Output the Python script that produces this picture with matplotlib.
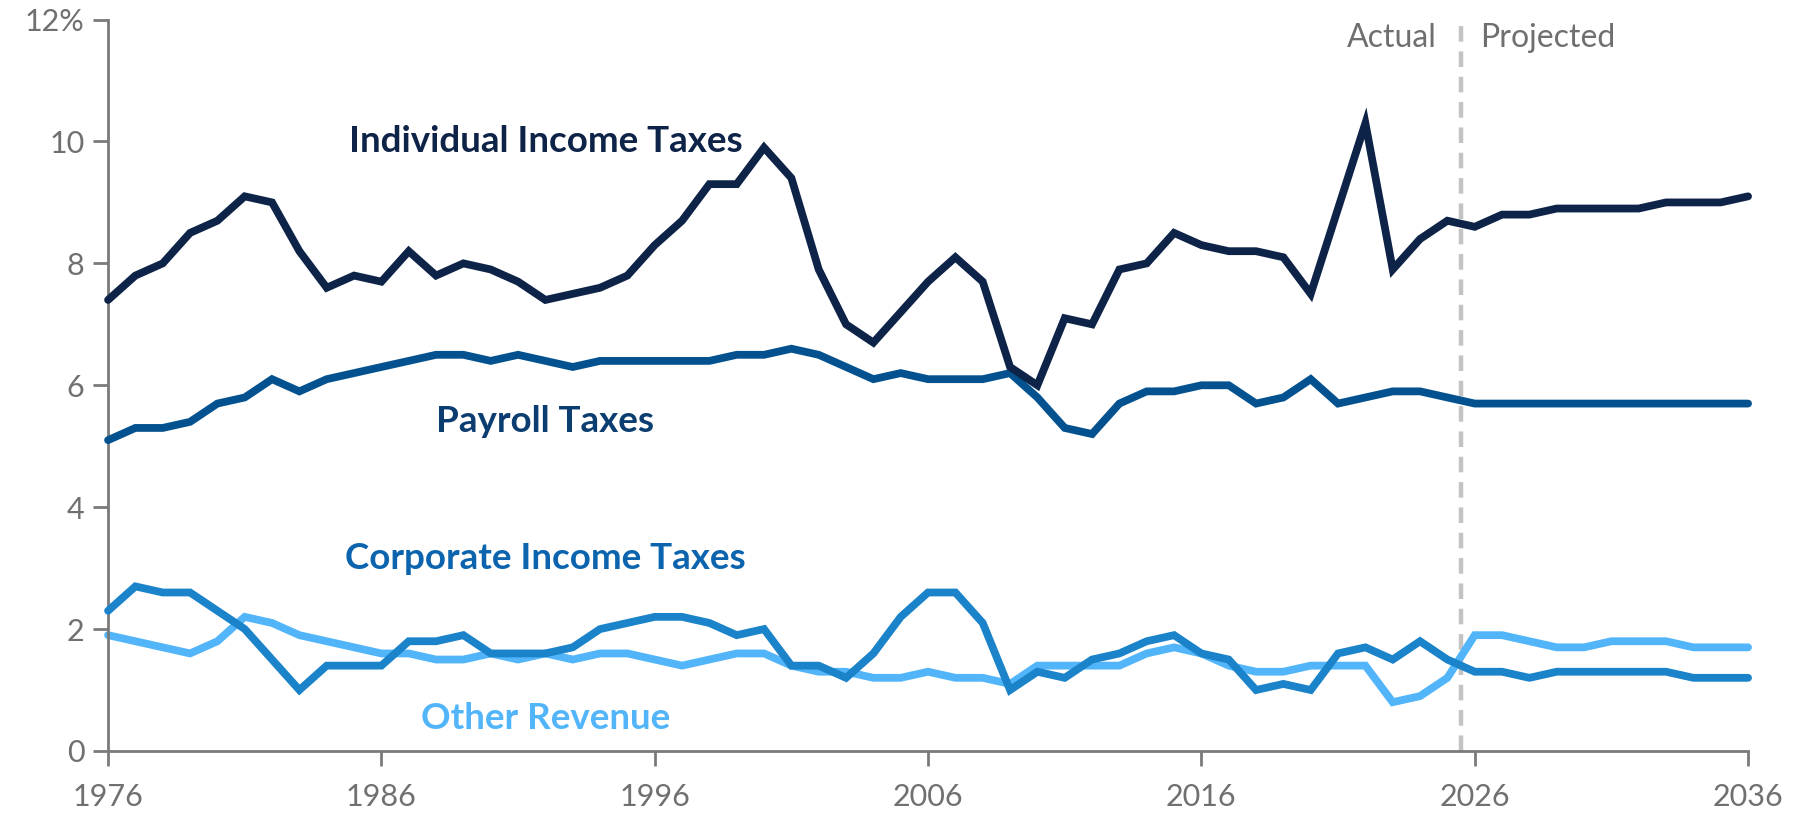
import numpy as np
import matplotlib
matplotlib.use("Agg")
from matplotlib import pyplot as plt

years = list(range(1976, 2037))

individual = [7.4, 7.8, 8.0, 8.5, 8.7, 9.1, 9.0, 8.2, 7.6, 7.8,
              7.7, 8.2, 7.8, 8.0, 7.9, 7.7, 7.4, 7.5, 7.6, 7.8,
              8.3, 8.7, 9.3, 9.3, 9.9, 9.4, 7.9, 7.0, 6.7, 7.2,
              7.7, 8.1, 7.7, 6.3, 6.0, 7.1, 7.0, 7.9, 8.0, 8.5,
              8.3, 8.2, 8.2, 8.1, 7.5, 8.9, 10.3, 7.9, 8.4, 8.7,
              8.6, 8.8, 8.8, 8.9, 8.9, 8.9, 8.9, 9.0, 9.0, 9.0,
              9.1]

payroll = [5.1, 5.3, 5.3, 5.4, 5.7, 5.8, 6.1, 5.9, 6.1, 6.2,
           6.3, 6.4, 6.5, 6.5, 6.4, 6.5, 6.4, 6.3, 6.4, 6.4,
           6.4, 6.4, 6.4, 6.5, 6.5, 6.6, 6.5, 6.3, 6.1, 6.2,
           6.1, 6.1, 6.1, 6.2, 5.8, 5.3, 5.2, 5.7, 5.9, 5.9,
           6.0, 6.0, 5.7, 5.8, 6.1, 5.7, 5.8, 5.9, 5.9, 5.8,
           5.7, 5.7, 5.7, 5.7, 5.7, 5.7, 5.7, 5.7, 5.7, 5.7,
           5.7]

corporate = [2.3, 2.7, 2.6, 2.6, 2.3, 2.0, 1.5, 1.0, 1.4, 1.4,
             1.4, 1.8, 1.8, 1.9, 1.6, 1.6, 1.6, 1.7, 2.0, 2.1,
             2.2, 2.2, 2.1, 1.9, 2.0, 1.4, 1.4, 1.2, 1.6, 2.2,
             2.6, 2.6, 2.1, 1.0, 1.3, 1.2, 1.5, 1.6, 1.8, 1.9,
             1.6, 1.5, 1.0, 1.1, 1.0, 1.6, 1.7, 1.5, 1.8, 1.5,
             1.3, 1.3, 1.2, 1.3, 1.3, 1.3, 1.3, 1.3, 1.2, 1.2,
             1.2]

other = [1.9, 1.8, 1.7, 1.6, 1.8, 2.2, 2.1, 1.9, 1.8, 1.7,
         1.6, 1.6, 1.5, 1.5, 1.6, 1.5, 1.6, 1.5, 1.6, 1.6,
         1.5, 1.4, 1.5, 1.6, 1.6, 1.4, 1.3, 1.3, 1.2, 1.2,
         1.3, 1.2, 1.2, 1.1, 1.4, 1.4, 1.4, 1.4, 1.6, 1.7,
         1.6, 1.4, 1.3, 1.3, 1.4, 1.4, 1.4, 0.8, 0.9, 1.2,
         1.9, 1.9, 1.8, 1.7, 1.7, 1.8, 1.8, 1.8, 1.7, 1.7,
         1.7]

xticks = [1976, 1986, 1996, 2006, 2016, 2026, 2036]
yticks = [0, 2, 4, 6, 8, 10, 12]
ytick_labels = ["0", "2", "4", "6", "8", "10", "12%"]

plt.rcParams['font.family'] = ['Lato', 'DejaVu Sans']

fig = plt.figure(figsize=(18.01, 8.16), dpi=100)
ax = fig.add_axes([0.06, 0.0797, 0.9106, 0.8963])

grey = "#7a7a7a"
c_ind = "#0d2347"
c_pay = "#03528f"
c_corp = "#1b83c9"
c_oth = "#52b5fa"

ax.axvline(2025.5, ymin=0, ymax=1, color="#c3c3c3", lw=3.2, ls=(0, (3.5, 2.2)), zorder=1)

line_kw = dict(lw=5.6, solid_capstyle="round", solid_joinstyle="miter", clip_on=False)
ax.plot(years, other, color=c_oth, zorder=2, **line_kw)
ax.plot(years, corporate, color=c_corp, zorder=3, **line_kw)
ax.plot(years, payroll, color=c_pay, zorder=4, **line_kw)
ax.plot(years, individual, color=c_ind, zorder=5, **line_kw)

lab_kw = dict(fontsize=26.5, fontweight="bold", ha="center", va="center")
ax.text(1992, 10.0, "Individual Income Taxes", color=c_ind, **lab_kw)
ax.text(1992, 5.4, "Payroll Taxes", color="#0c3d70", **lab_kw)
ax.text(1992, 3.15, "Corporate Income Taxes", color="#0b64ad", **lab_kw)
ax.text(1992, 0.53, "Other Revenue", color=c_oth, **lab_kw)

ax.text(2024.6, 11.7, "Actual", color="#6f6f6f", fontsize=23, ha="right", va="center")
ax.text(2026.2, 11.7, "Projected", color="#6f6f6f", fontsize=23, ha="left", va="center")

ax.set_xlim(1976, 2036)
ax.set_ylim(0, 12)
ax.set_xticks(xticks)
ax.set_xticklabels([str(x) for x in xticks])
ax.set_yticks(yticks)
ax.set_yticklabels(ytick_labels)

for s in ["top", "right"]:
    ax.spines[s].set_visible(False)
for s in ["left", "bottom"]:
    ax.spines[s].set_color(grey)
    ax.spines[s].set_linewidth(2)
ax.tick_params(axis="both", colors=grey, labelcolor="#707070", labelsize=22,
               length=11, width=2, direction="out")
ax.tick_params(axis="x", pad=12)
ax.tick_params(axis="y", pad=6)

fig.savefig("out.png", dpi=100)
